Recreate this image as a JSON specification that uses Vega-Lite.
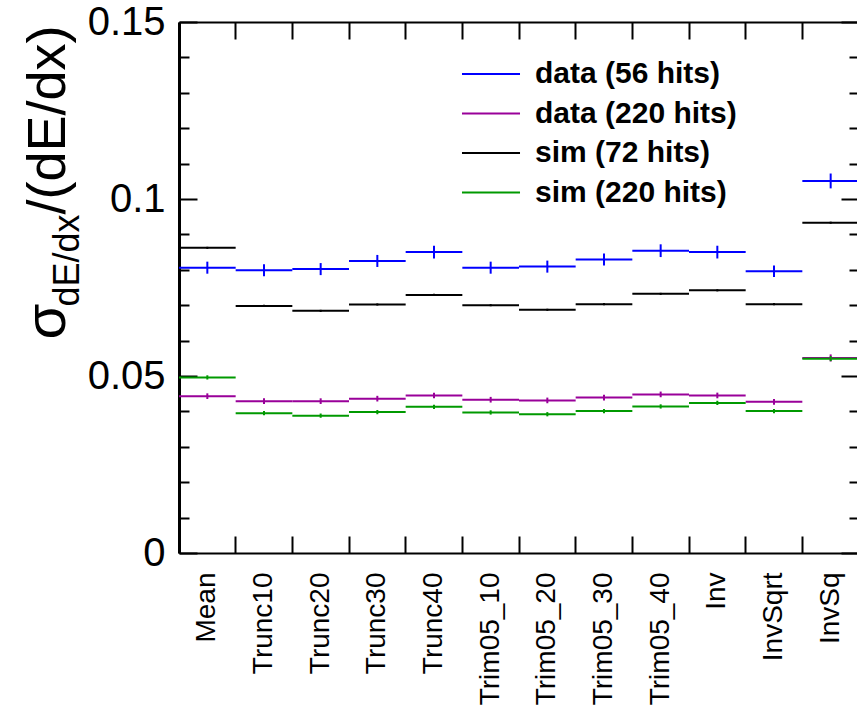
{
  "$schema": "https://vega.github.io/schema/vega-lite/v6.json",
  "autosize": "none",
  "padding": {"left": 179, "top": 22, "right": 0, "bottom": 161},
  "width": 678,
  "height": 531,
  "background": "white",
  "config": {
    "view": {"stroke": null},
    "font": "Liberation Sans",
    "axis": {"grid": false, "domainColor": "black", "tickColor": "black", "labelColor": "black", "titleColor": "black", "labelFont": "Liberation Sans", "titleFont": "Liberation Sans", "titleFontWeight": "normal"}
  },
  "data": {"values": [
    {"method": "Mean", "series": "data (56 hits)", "value": 0.0806, "err": 0.0017},
    {"method": "Trunc10", "series": "data (56 hits)", "value": 0.0799, "err": 0.0017},
    {"method": "Trunc20", "series": "data (56 hits)", "value": 0.0802, "err": 0.0017},
    {"method": "Trunc30", "series": "data (56 hits)", "value": 0.0825, "err": 0.0017},
    {"method": "Trunc40", "series": "data (56 hits)", "value": 0.0850, "err": 0.0018},
    {"method": "Trim05_10", "series": "data (56 hits)", "value": 0.0806, "err": 0.0017},
    {"method": "Trim05_20", "series": "data (56 hits)", "value": 0.0809, "err": 0.0017},
    {"method": "Trim05_30", "series": "data (56 hits)", "value": 0.0829, "err": 0.0017},
    {"method": "Trim05_40", "series": "data (56 hits)", "value": 0.0854, "err": 0.0018},
    {"method": "Inv", "series": "data (56 hits)", "value": 0.0850, "err": 0.0018},
    {"method": "InvSqrt", "series": "data (56 hits)", "value": 0.0796, "err": 0.0016},
    {"method": "InvSq", "series": "data (56 hits)", "value": 0.1051, "err": 0.0021},
    {"method": "Mean", "series": "data (220 hits)", "value": 0.0443, "err": 0.0008},
    {"method": "Trunc10", "series": "data (220 hits)", "value": 0.0429, "err": 0.0008},
    {"method": "Trunc20", "series": "data (220 hits)", "value": 0.0429, "err": 0.0008},
    {"method": "Trunc30", "series": "data (220 hits)", "value": 0.0436, "err": 0.0008},
    {"method": "Trunc40", "series": "data (220 hits)", "value": 0.0445, "err": 0.0008},
    {"method": "Trim05_10", "series": "data (220 hits)", "value": 0.0433, "err": 0.0008},
    {"method": "Trim05_20", "series": "data (220 hits)", "value": 0.0431, "err": 0.0008},
    {"method": "Trim05_30", "series": "data (220 hits)", "value": 0.0439, "err": 0.0008},
    {"method": "Trim05_40", "series": "data (220 hits)", "value": 0.0448, "err": 0.0008},
    {"method": "Inv", "series": "data (220 hits)", "value": 0.0445, "err": 0.0008},
    {"method": "InvSqrt", "series": "data (220 hits)", "value": 0.0427, "err": 0.0008},
    {"method": "InvSq", "series": "data (220 hits)", "value": 0.0551, "err": 0.0010},
    {"method": "Mean", "series": "sim (72 hits)", "value": 0.0862, "err": 0.0003},
    {"method": "Trunc10", "series": "sim (72 hits)", "value": 0.0698, "err": 0.0003},
    {"method": "Trunc20", "series": "sim (72 hits)", "value": 0.0684, "err": 0.0003},
    {"method": "Trunc30", "series": "sim (72 hits)", "value": 0.0702, "err": 0.0003},
    {"method": "Trunc40", "series": "sim (72 hits)", "value": 0.0729, "err": 0.0003},
    {"method": "Trim05_10", "series": "sim (72 hits)", "value": 0.0700, "err": 0.0003},
    {"method": "Trim05_20", "series": "sim (72 hits)", "value": 0.0687, "err": 0.0003},
    {"method": "Trim05_30", "series": "sim (72 hits)", "value": 0.0703, "err": 0.0003},
    {"method": "Trim05_40", "series": "sim (72 hits)", "value": 0.0732, "err": 0.0003},
    {"method": "Inv", "series": "sim (72 hits)", "value": 0.0742, "err": 0.0003},
    {"method": "InvSqrt", "series": "sim (72 hits)", "value": 0.0703, "err": 0.0003},
    {"method": "InvSq", "series": "sim (72 hits)", "value": 0.0933, "err": 0.0003},
    {"method": "Mean", "series": "sim (220 hits)", "value": 0.0496, "err": 0.0006},
    {"method": "Trunc10", "series": "sim (220 hits)", "value": 0.0395, "err": 0.0006},
    {"method": "Trunc20", "series": "sim (220 hits)", "value": 0.0388, "err": 0.0006},
    {"method": "Trunc30", "series": "sim (220 hits)", "value": 0.0398, "err": 0.0006},
    {"method": "Trunc40", "series": "sim (220 hits)", "value": 0.0413, "err": 0.0006},
    {"method": "Trim05_10", "series": "sim (220 hits)", "value": 0.0397, "err": 0.0006},
    {"method": "Trim05_20", "series": "sim (220 hits)", "value": 0.0392, "err": 0.0006},
    {"method": "Trim05_30", "series": "sim (220 hits)", "value": 0.0401, "err": 0.0006},
    {"method": "Trim05_40", "series": "sim (220 hits)", "value": 0.0414, "err": 0.0006},
    {"method": "Inv", "series": "sim (220 hits)", "value": 0.0424, "err": 0.0006},
    {"method": "InvSqrt", "series": "sim (220 hits)", "value": 0.0401, "err": 0.0006},
    {"method": "InvSq", "series": "sim (220 hits)", "value": 0.0549, "err": 0.0007}
  ]},
  "layer": [
    {
      "transform": [{"filter": "datum.series == 'data (56 hits)' || datum.series == 'data (220 hits)'"}],
      "mark": {"type": "bar", "filled": false, "strokeWidth": 2, "clip": true},
      "encoding": {
        "x": {"field": "method", "type": "nominal", "sort": ["Mean","Trunc10","Trunc20","Trunc30","Trunc40","Trim05_10","Trim05_20","Trim05_30","Trim05_40","Inv","InvSqrt","InvSq"],
          "scale": {"type": "band", "paddingInner": 0, "paddingOuter": 0, "range": [0, 680]},
          "axis": {"orient": "bottom", "title": null, "bandPosition": 0, "tickSize": -17, "tickWidth": 2, "domainWidth": 2, "labelAngle": 270, "labelAlign": "right", "labelBaseline": "middle", "labelFontSize": 28, "labelPadding": 36, "labelOverlap": false, "labelLimit": 400}},
        "y": {"field": "value", "type": "quantitative", "scale": {"domain": [0, 0.15], "nice": false, "zero": true},
          "axis": {"orient": "left", "values": [0, 0.05, 0.1, 0.15], "format": ".2~f", "tickSize": -18, "tickWidth": 2, "domainWidth": 3, "labelFontSize": 40, "labelPadding": 32, "labelFlush": false, "labelOverlap": false,
            "title": "σ", "titleFontSize": 58, "titleAngle": 270, "titleAlign": "left", "titleBaseline": "alphabetic", "titleX": -115, "titleY": 317}},
        "y2": {"field": "value"},
        "color": {"field": "series", "type": "nominal",
          "scale": {"domain": ["data (56 hits)", "data (220 hits)", "sim (72 hits)", "sim (220 hits)"], "range": ["#0000ff", "#990099", "#000000", "#009900"]},
          "legend": {"orient": "none", "legendX": 297, "legendY": 37, "title": null, "symbolType": "M-3,0H3", "symbolSize": 374, "symbolStrokeWidth": 2, "labelFontSize": 30, "labelFontWeight": "bold", "labelFont": "Liberation Sans", "labelColor": "black", "labelOffset": 29, "rowPadding": 9.5, "padding": 0, "labelLimit": 400}}
      }
    },
    {
      "transform": [{"filter": "datum.series == 'sim (72 hits)' || datum.series == 'sim (220 hits)'"}],
      "mark": {"type": "bar", "filled": false, "strokeWidth": 2, "clip": true},
      "encoding": {
        "x": {"field": "method", "type": "nominal", "sort": ["Mean","Trunc10","Trunc20","Trunc30","Trunc40","Trim05_10","Trim05_20","Trim05_30","Trim05_40","Inv","InvSqrt","InvSq"],
          "scale": {"type": "band", "paddingInner": 0, "paddingOuter": 0, "range": [0, 680]},
          "axis": {"orient": "top", "title": null, "bandPosition": 0, "tickSize": -17, "tickWidth": 2, "domainWidth": 2, "labels": false}},
        "y": {"field": "value", "type": "quantitative", "scale": {"domain": [0, 0.15], "nice": false, "zero": true},
          "axis": {"orient": "left", "values": [0.01,0.02,0.03,0.04,0.06,0.07,0.08,0.09,0.11,0.12,0.13,0.14], "tickSize": -10, "tickWidth": 2, "labels": false, "domain": false,
            "title": "dE/dx", "titleFontSize": 36, "titleAngle": 270, "titleAlign": "left", "titleBaseline": "alphabetic", "titleX": -101, "titleY": 284}},
        "y2": {"field": "value"},
        "color": {"field": "series", "type": "nominal",
          "scale": {"domain": ["data (56 hits)", "data (220 hits)", "sim (72 hits)", "sim (220 hits)"], "range": ["#0000ff", "#990099", "#000000", "#009900"]},
          "legend": {"orient": "none", "legendX": 297, "legendY": 37, "title": null, "symbolType": "M-3,0H3", "symbolSize": 374, "symbolStrokeWidth": 2, "labelFontSize": 30, "labelFontWeight": "bold", "labelFont": "Liberation Sans", "labelColor": "black", "labelOffset": 29, "rowPadding": 9.5, "padding": 0, "labelLimit": 400}}
      }
    },
    {
      "transform": [{"filter": "datum.series == 'data (56 hits)' || datum.series == 'data (220 hits)'"}],
      "mark": {"type": "errorbar", "ticks": false, "thickness": 2},
      "encoding": {
        "x": {"field": "method", "type": "nominal", "sort": ["Mean","Trunc10","Trunc20","Trunc30","Trunc40","Trim05_10","Trim05_20","Trim05_30","Trim05_40","Inv","InvSqrt","InvSq"],
          "scale": {"type": "band", "paddingInner": 0, "paddingOuter": 0, "range": [0, 680]}, "axis": null},
        "y": {"field": "value", "type": "quantitative", "scale": {"domain": [0, 0.15], "nice": false, "zero": true},
          "axis": {"orient": "right", "offset": 2, "values": [0, 0.05, 0.1, 0.15], "tickSize": -18, "tickWidth": 2, "labels": false, "domain": false,
            "title": "/(dE/dx)", "titleFontSize": 54, "titleAngle": 270, "titleAlign": "left", "titleBaseline": "alphabetic", "titleX": -795, "titleY": 192}},
        "yError": {"field": "err"},
        "color": {"field": "series", "type": "nominal",
          "scale": {"domain": ["data (56 hits)", "data (220 hits)", "sim (72 hits)", "sim (220 hits)"], "range": ["#0000ff", "#990099", "#000000", "#009900"]},
          "legend": {"orient": "none", "legendX": 297, "legendY": 37, "title": null, "symbolType": "M-3,0H3", "symbolSize": 374, "symbolStrokeWidth": 2, "labelFontSize": 30, "labelFontWeight": "bold", "labelFont": "Liberation Sans", "labelColor": "black", "labelOffset": 29, "rowPadding": 9.5, "padding": 0, "labelLimit": 400}}
      }
    },
    {
      "transform": [{"filter": "datum.series == 'sim (72 hits)' || datum.series == 'sim (220 hits)'"}],
      "mark": {"type": "errorbar", "ticks": false, "thickness": 2},
      "encoding": {
        "x": {"field": "method", "type": "nominal", "sort": ["Mean","Trunc10","Trunc20","Trunc30","Trunc40","Trim05_10","Trim05_20","Trim05_30","Trim05_40","Inv","InvSqrt","InvSq"],
          "scale": {"type": "band", "paddingInner": 0, "paddingOuter": 0, "range": [0, 680]}, "axis": null},
        "y": {"field": "value", "type": "quantitative", "scale": {"domain": [0, 0.15], "nice": false, "zero": true},
          "axis": {"orient": "right", "offset": 2, "values": [0.01,0.02,0.03,0.04,0.06,0.07,0.08,0.09,0.11,0.12,0.13,0.14], "tickSize": -10, "tickWidth": 2, "labels": false, "domain": false, "title": null}},
        "yError": {"field": "err"},
        "color": {"field": "series", "type": "nominal",
          "scale": {"domain": ["data (56 hits)", "data (220 hits)", "sim (72 hits)", "sim (220 hits)"], "range": ["#0000ff", "#990099", "#000000", "#009900"]},
          "legend": {"orient": "none", "legendX": 297, "legendY": 37, "title": null, "symbolType": "M-3,0H3", "symbolSize": 374, "symbolStrokeWidth": 2, "labelFontSize": 30, "labelFontWeight": "bold", "labelFont": "Liberation Sans", "labelColor": "black", "labelOffset": 29, "rowPadding": 9.5, "padding": 0, "labelLimit": 400}}
      }
    }
  ],
  "resolve": {"axis": {"x": "independent", "y": "independent"}}
}
